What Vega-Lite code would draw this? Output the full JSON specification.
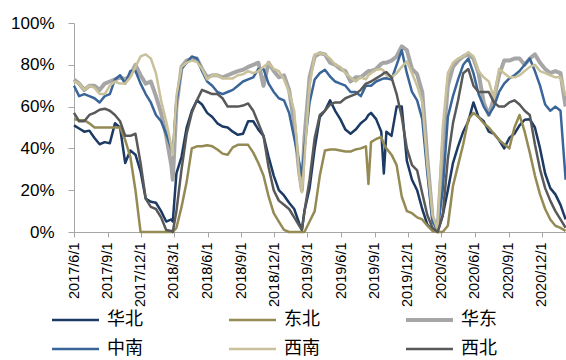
{
  "$schema": "https://vega.github.io/schema/vega-lite/v6.json",
  "width": 492,
  "height": 209,
  "autosize": {"type": "none"},
  "padding": {"left": 74, "top": 23, "right": 0, "bottom": 128},
  "background": "white",
  "config": {"view": {"stroke": null}, "font": "Liberation Sans"},
  "data": {"values": [
    {"d": "2017-06-01", "华北": 51, "东北": 54, "华东": 73, "中南": 70, "西南": 72, "西北": 57},
    {"d": "2017-06-15", "华北": 49.5, "东北": 53.5, "华东": 71, "中南": 65, "西南": 71, "西北": 53},
    {"d": "2017-06-29", "华北": 48, "东北": 53.5, "华东": 68, "中南": 66, "西南": 68, "西北": 53},
    {"d": "2017-07-13", "华北": 48.5, "东北": 52, "华东": 70, "中南": 65, "西南": 70, "西北": 56},
    {"d": "2017-07-27", "华北": 45, "东北": 50, "华东": 70, "中南": 64, "西南": 69, "西北": 57},
    {"d": "2017-08-10", "华北": 42, "东北": 50, "华东": 68, "中南": 62, "西南": 66, "西北": 58.5},
    {"d": "2017-08-24", "华北": 43, "东北": 50, "华东": 71, "中南": 65, "西南": 66, "西北": 59},
    {"d": "2017-09-07", "华北": 42.5, "东北": 50, "华东": 72, "中南": 66, "西南": 70, "西北": 58},
    {"d": "2017-09-21", "华北": 52, "东北": 50, "华东": 73, "中南": 73, "西南": 72, "西北": 56},
    {"d": "2017-10-05", "华北": 50, "东北": 50, "华东": 74, "中南": 75, "西南": 71, "西北": 53},
    {"d": "2017-10-19", "华北": 33, "东北": 44, "华东": 73, "中南": 71, "西南": 71, "西北": 46},
    {"d": "2017-11-02", "华北": 39, "东北": 36, "华东": 75, "中南": 77, "西南": 74, "西北": 46},
    {"d": "2017-11-16", "华北": 37, "东北": 20, "华东": 80, "中南": 77, "西南": 79, "西北": 47},
    {"d": "2017-11-30", "华北": 29, "东北": 0, "华东": 75, "中南": 71, "西南": 84, "西北": 33},
    {"d": "2017-12-14", "华北": 16, "东北": 0, "华东": 71, "中南": 66, "西南": 85, "西北": 16},
    {"d": "2017-12-28", "华北": 14.5, "东北": 0, "华东": 72, "中南": 62, "西南": 83, "西北": 12},
    {"d": "2018-01-11", "华北": 14, "东北": 0, "华东": 65, "中南": 56, "西南": 76, "西北": 11},
    {"d": "2018-01-25", "华北": 10, "东北": 0, "华东": 57, "中南": 53, "西南": 63, "西北": 7},
    {"d": "2018-02-08", "华北": 5, "东北": 0, "华东": 46, "中南": 47, "西南": 53, "西北": 1},
    {"d": "2018-02-22", "华北": 6, "东北": 0, "华东": 32, "中南": 40, "西南": 41, "西北": 0.5},
    {"d": "2018-02-26", "华北": 5, "东北": 0, "华东": 25, "中南": 38, "西南": 37, "西北": 0},
    {"d": "2018-03-08", "华北": 28, "东北": 2, "华东": 60, "中南": 62, "西南": 65, "西北": 10},
    {"d": "2018-03-22", "华北": 36, "东北": 12, "华东": 79, "中南": 78, "西南": 79, "西北": 30},
    {"d": "2018-04-05", "华北": 50, "东北": 24, "华东": 82, "中南": 81, "西南": 81, "西北": 47},
    {"d": "2018-04-19", "华北": 58, "东北": 40, "华东": 83, "中南": 84, "西南": 82, "西北": 57},
    {"d": "2018-05-03", "华北": 63, "东北": 41, "华东": 83, "中南": 83, "西南": 81.5, "西北": 63},
    {"d": "2018-05-17", "华北": 61, "东北": 41, "华东": 78, "中南": 77, "西南": 78, "西北": 68},
    {"d": "2018-05-31", "华北": 57, "东北": 41.5, "华东": 74, "中南": 72, "西南": 73, "西北": 67},
    {"d": "2018-06-14", "华北": 55, "东北": 41, "华东": 75, "中南": 70, "西南": 75, "西北": 66},
    {"d": "2018-06-28", "华北": 52, "东北": 39.5, "华东": 75, "中南": 67, "西南": 75, "西北": 66},
    {"d": "2018-07-12", "华北": 50.5, "东北": 37.5, "华东": 74, "中南": 66, "西南": 73.5, "西北": 64},
    {"d": "2018-07-26", "华北": 50, "东北": 37, "华东": 75, "中南": 67, "西南": 73.5, "西北": 60},
    {"d": "2018-08-09", "华北": 48, "东北": 40.5, "华东": 76, "中南": 68, "西南": 73.5, "西北": 60},
    {"d": "2018-08-23", "华北": 46.5, "东北": 41.7, "华东": 77, "中南": 70, "西南": 75, "西北": 60},
    {"d": "2018-09-06", "华北": 47, "东北": 41.7, "华东": 77.6, "中南": 72, "西南": 75.5, "西北": 60.5},
    {"d": "2018-09-20", "华北": 53, "东北": 41.7, "华东": 79, "中南": 73, "西南": 77, "西北": 61.5},
    {"d": "2018-10-04", "华北": 53, "东北": 38, "华东": 80, "中南": 74, "西南": 76, "西北": 58},
    {"d": "2018-10-18", "华北": 49, "东北": 33, "华东": 81, "中南": 78, "西南": 77, "西北": 52},
    {"d": "2018-11-01", "华北": 46, "东北": 27, "华东": 70, "中南": 78, "西南": 79, "西北": 46},
    {"d": "2018-11-15", "华北": 36, "东北": 17, "华东": 81, "中南": 71, "西南": 81, "西北": 31},
    {"d": "2018-11-29", "华北": 27, "东北": 9, "华东": 77, "中南": 67, "西南": 78, "西北": 20},
    {"d": "2018-12-13", "华北": 20, "东北": 5, "华东": 74, "中南": 64, "西南": 77, "西北": 15},
    {"d": "2018-12-27", "华北": 17.5, "东北": 1, "华东": 75, "中南": 63, "西南": 73, "西北": 13},
    {"d": "2019-01-10", "华北": 14, "东北": 0, "华东": 68, "中南": 57, "西南": 67, "西北": 11},
    {"d": "2019-01-24", "华北": 11, "东北": 0, "华东": 52, "中南": 45, "西南": 58, "西北": 7},
    {"d": "2019-02-07", "华北": 4, "东北": 0, "华东": 28, "中南": 33, "西南": 27, "西北": 3},
    {"d": "2019-02-14", "华北": 1, "东北": 0, "华东": 20, "中南": 27, "西南": 19, "西北": 1},
    {"d": "2019-02-21", "华北": 10, "东北": 0, "华东": 45, "中南": 40, "西南": 35, "西北": 10},
    {"d": "2019-03-07", "华北": 21, "东北": 5, "华东": 74, "中南": 62, "西南": 70, "西北": 25},
    {"d": "2019-03-21", "华北": 40, "东北": 10, "华东": 84, "中南": 73, "西南": 85, "西北": 45},
    {"d": "2019-04-04", "华北": 55, "东北": 27, "华东": 85.5, "中南": 76, "西南": 85.6, "西北": 56},
    {"d": "2019-04-18", "华北": 58, "东北": 39, "华东": 85, "中南": 77.6, "西南": 85, "西北": 58},
    {"d": "2019-05-02", "华北": 63, "东北": 39.5, "华东": 81, "中南": 74.4, "西南": 83, "西北": 61},
    {"d": "2019-05-16", "华北": 58, "东北": 39.5, "华东": 80, "中南": 72, "西南": 80, "西北": 62},
    {"d": "2019-05-30", "华北": 54, "东北": 39, "华东": 78, "中南": 71, "西南": 79, "西北": 62},
    {"d": "2019-06-13", "华北": 49, "东北": 38.5, "华东": 77, "中南": 70, "西南": 76, "西北": 64},
    {"d": "2019-06-27", "华北": 47, "东北": 38.5, "华东": 72, "中南": 67, "西南": 74, "西北": 65},
    {"d": "2019-07-11", "华北": 49, "东北": 39.5, "华东": 74, "中南": 67, "西南": 72, "西北": 66},
    {"d": "2019-07-25", "华北": 52, "东北": 40, "华东": 74, "中南": 65, "西南": 74, "西北": 68},
    {"d": "2019-08-08", "华北": 54, "东北": 41, "华东": 76, "中南": 70, "西南": 73, "西北": 71},
    {"d": "2019-08-15", "华北": 56, "东北": 23, "华东": 77, "中南": 70, "西南": 75, "西北": 71.5},
    {"d": "2019-08-22", "华北": 57, "东北": 43, "华东": 77, "中南": 70, "西南": 76, "西北": 72},
    {"d": "2019-09-05", "华北": 54, "东北": 44.5, "华东": 78, "中南": 72, "西南": 77.6, "西北": 73.5},
    {"d": "2019-09-19", "华北": 48, "东北": 45.5, "华东": 80.5, "中南": 73, "西南": 78, "西北": 75},
    {"d": "2019-09-26", "华北": 28, "东北": 42, "华东": 81, "中南": 73.5, "西南": 77, "西北": 76},
    {"d": "2019-10-03", "华北": 48, "东北": 40, "华东": 81, "中南": 73.6, "西南": 75, "西北": 76.5},
    {"d": "2019-10-17", "华北": 46, "东北": 37, "华东": 82, "中南": 73, "西南": 74, "西北": 74},
    {"d": "2019-10-31", "华北": 60, "东北": 32, "华东": 84, "中南": 80, "西南": 76, "西北": 66},
    {"d": "2019-11-14", "华北": 60, "东北": 17, "华东": 88.8, "中南": 87, "西南": 79, "西北": 55},
    {"d": "2019-11-28", "华北": 34, "东北": 10, "华东": 87, "中南": 76, "西南": 81.6, "西北": 40},
    {"d": "2019-12-12", "华北": 25, "东北": 9, "华东": 78, "中南": 67, "西南": 76, "西北": 32},
    {"d": "2019-12-26", "华北": 20, "东北": 7, "华东": 75.5, "中南": 63, "西南": 70, "西北": 29.5},
    {"d": "2020-01-09", "华北": 11, "东北": 6, "华东": 67, "中南": 54, "西南": 62, "西北": 18.5},
    {"d": "2020-01-23", "华北": 3.5, "东北": 3, "华东": 35, "中南": 28, "西南": 32, "西北": 8},
    {"d": "2020-02-06", "华北": 1, "东北": 0.5, "华东": 7, "中南": 5, "西南": 8, "西北": 2},
    {"d": "2020-02-20", "华北": 0, "东北": 0, "华东": 1, "中南": 1, "西南": 1, "西北": 0},
    {"d": "2020-03-05", "华北": 8, "东北": 0, "华东": 40, "中南": 20, "西南": 50, "西北": 8},
    {"d": "2020-03-19", "华北": 20, "东北": 3, "华东": 70, "中南": 55, "西南": 76, "西北": 35},
    {"d": "2020-04-02", "华北": 33, "东北": 22, "华东": 79, "中南": 65, "西南": 81, "西北": 52},
    {"d": "2020-04-16", "华北": 41, "东北": 32, "华东": 82, "中南": 73, "西南": 83, "西北": 63},
    {"d": "2020-04-30", "华北": 48, "东北": 42, "华东": 84, "中南": 80, "西南": 84, "西北": 76},
    {"d": "2020-05-14", "华北": 53, "东北": 54, "华东": 85, "中南": 83, "西南": 86, "西北": 78},
    {"d": "2020-05-28", "华北": 62, "东北": 57, "华东": 83, "中南": 76, "西南": 84, "西北": 70},
    {"d": "2020-06-11", "华北": 55, "东北": 55, "华东": 76, "中南": 66, "西南": 77, "西北": 67},
    {"d": "2020-06-25", "华北": 53, "东北": 52, "华东": 62, "中南": 60, "西南": 74, "西北": 67},
    {"d": "2020-07-09", "华北": 48, "东北": 50, "华东": 56, "中南": 56, "西南": 72, "西北": 67},
    {"d": "2020-07-23", "华北": 47, "东北": 47, "华东": 64, "中南": 60, "西南": 64, "西北": 62},
    {"d": "2020-08-06", "华北": 44, "东北": 44, "华东": 75, "中南": 67, "西南": 78, "西北": 60},
    {"d": "2020-08-20", "华北": 40, "东北": 42, "华东": 82, "中南": 71, "西南": 76, "西北": 60},
    {"d": "2020-09-03", "华北": 45, "东北": 40, "华东": 82, "中南": 73.5, "西南": 74, "西北": 62},
    {"d": "2020-09-17", "华北": 47, "东北": 50, "华东": 83, "中南": 75, "西南": 74, "西北": 63},
    {"d": "2020-10-01", "华北": 51, "东北": 56, "华东": 83, "中南": 77, "西南": 75, "西北": 61},
    {"d": "2020-10-15", "华北": 53.7, "东北": 48, "华东": 80, "中南": 80, "西南": 77, "西北": 58},
    {"d": "2020-10-29", "华北": 54, "东北": 38, "华东": 83, "中南": 83, "西南": 79, "西北": 56},
    {"d": "2020-11-12", "华北": 50, "东北": 27, "华东": 85, "中南": 77, "西南": 80, "西北": 42},
    {"d": "2020-11-26", "华北": 40, "东北": 18, "华东": 81, "中南": 70, "西南": 77, "西北": 30},
    {"d": "2020-12-10", "华北": 28, "东北": 11, "华东": 78, "中南": 61, "西南": 76, "西北": 21},
    {"d": "2020-12-24", "华北": 21, "东北": 6, "华东": 76, "中南": 58, "西南": 75, "西北": 15},
    {"d": "2021-01-07", "华北": 18, "东北": 3, "华东": 77, "中南": 60, "西南": 74, "西北": 10},
    {"d": "2021-01-21", "华北": 13, "东北": 2, "华东": 76, "中南": 58, "西南": 74, "西北": 6},
    {"d": "2021-02-04", "华北": 6, "东北": 0.5, "华东": 60, "中南": 25, "西南": 65, "西北": 2}
  ]},
  "transform": [{"fold": ["华北", "东北", "华东", "中南", "西南", "西北"], "as": ["s", "v"]}],
  "mark": {"type": "line", "strokeJoin": "round"},
  "encoding": {
    "x": {
      "field": "d", "type": "temporal",
      "scale": {"type": "utc", "domain": [{"year": 2017, "month": 6, "date": 1, "utc": true}, {"year": 2021, "month": 2, "date": 5, "utc": true}]},
      "axis": {
        "title": null, "grid": false,
        "values": [
          {"year": 2017, "month": 6, "date": 1, "utc": true},
          {"year": 2017, "month": 9, "date": 1, "utc": true},
          {"year": 2017, "month": 12, "date": 1, "utc": true},
          {"year": 2018, "month": 3, "date": 1, "utc": true},
          {"year": 2018, "month": 6, "date": 1, "utc": true},
          {"year": 2018, "month": 9, "date": 1, "utc": true},
          {"year": 2018, "month": 12, "date": 1, "utc": true},
          {"year": 2019, "month": 3, "date": 1, "utc": true},
          {"year": 2019, "month": 6, "date": 1, "utc": true},
          {"year": 2019, "month": 9, "date": 1, "utc": true},
          {"year": 2019, "month": 12, "date": 1, "utc": true},
          {"year": 2020, "month": 3, "date": 1, "utc": true},
          {"year": 2020, "month": 6, "date": 1, "utc": true},
          {"year": 2020, "month": 9, "date": 1, "utc": true},
          {"year": 2020, "month": 12, "date": 1, "utc": true}
        ],
        "format": "%Y/%-m/%-d",
        "labelAngle": -90, "labelFontSize": 14.5, "labelColor": "#000000",
        "labelFont": "Liberation Sans", "labelOverlap": false, "labelFlush": false,
        "labelPadding": 5, "tickSize": 5, "tickColor": "#A6A6A6", "domainColor": "#A6A6A6"
      }
    },
    "y": {
      "field": "v", "type": "quantitative",
      "scale": {"domain": [0, 100], "nice": false},
      "axis": {
        "title": null, "grid": false, "values": [0, 20, 40, 60, 80, 100],
        "labelExpr": "datum.value + '%'", "labelFontSize": 17, "labelColor": "#000000",
        "labelFont": "Liberation Sans", "labelPadding": 14, "tickSize": 6,
        "tickColor": "#A6A6A6", "domainColor": "#A6A6A6"
      }
    },
    "color": {
      "field": "s", "type": "nominal",
      "scale": {"domain": ["华北", "东北", "华东", "中南", "西南", "西北"], "range": ["#1C3A64", "#948A54", "#A6A6A6", "#3A6598", "#C9C19A", "#595959"]},
      "legend": {
        "title": null, "orient": "none", "legendX": -24, "legendY": 287,
        "direction": "horizontal", "columns": 3, "symbolType": "stroke", "symbolSize": 2209,
        "symbolStrokeWidth": 3, "labelFont": "Noto Sans CJK SC", "labelFontSize": 18,
        "labelColor": "#000000", "labelOffset": 6, "columnPadding": 84, "rowPadding": 9, "padding": 0,
        "clipHeight": 20,
        "encode": {"symbols": {"update": {"strokeWidth": {"signal": "datum.value === '华东' ? 5 : 3"}}}}
      }
    },
    "strokeWidth": {
      "field": "s", "type": "nominal",
      "scale": {"type": "ordinal", "domain": ["华北", "东北", "华东", "中南", "西南", "西北"], "range": [2.5, 2.5, 4, 2.5, 2.5, 2.5]},
      "legend": null
    }
  }
}
